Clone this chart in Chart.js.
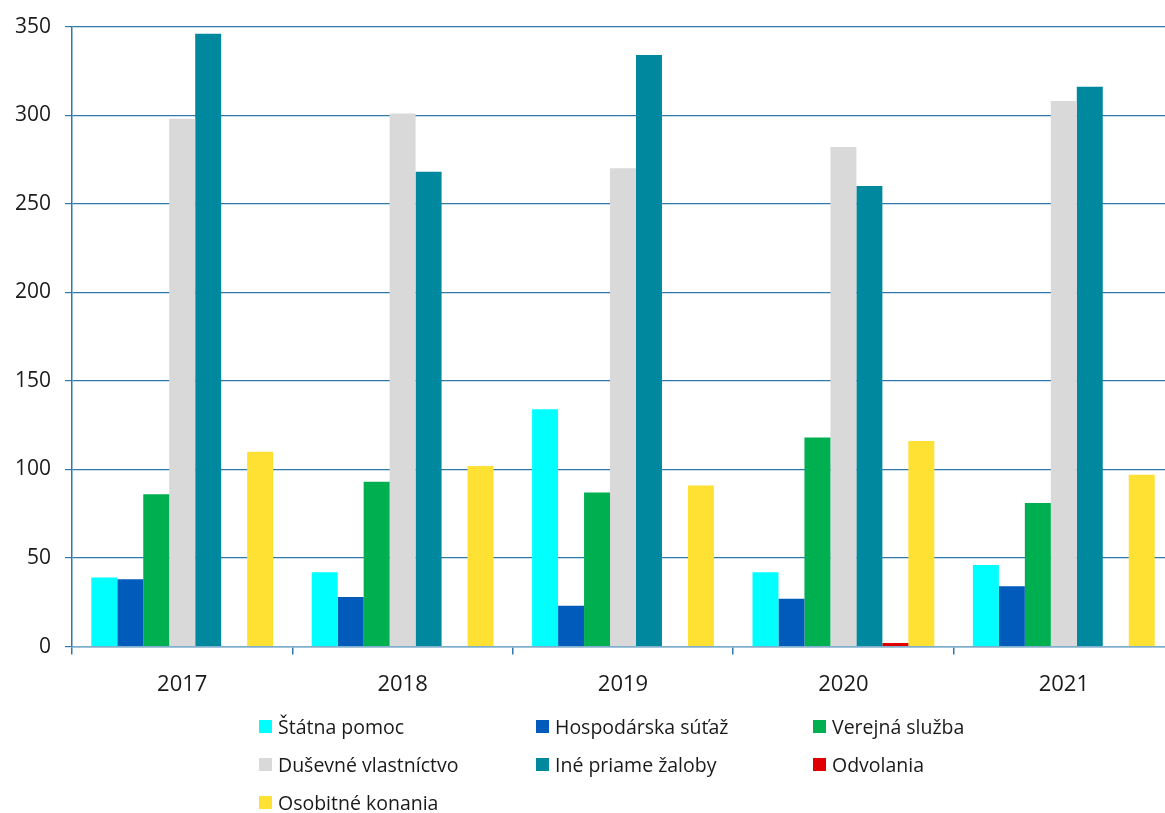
<!DOCTYPE html>
<html>
<head>
<meta charset="utf-8">
<script src="https://cdn.jsdelivr.net/npm/chart.js@4/dist/chart.umd.min.js"></script>
<style>
  html, body { margin: 0; padding: 0; background: #fff; overflow: hidden; }
  #wrap { position: relative; width: 1180px; height: 813px; }
  #chartBox { position: absolute; left: 0; top: 0; width: 1180px; height: 813px; }
  #legend { position: absolute; left: 259px; top: 713px; display: grid;
            grid-template-columns: 277px 277px 277px; row-gap: 12px;
            font-family: "Open Sans", "Noto Sans", sans-serif; font-size: 19.5px; color: #1a1a1a; }
  .item { display: flex; align-items: center; height: 26px; white-space: nowrap; }
  .sw { width: 13px; height: 13px; margin-right: 6px; flex: none; }
</style>
</head>
<body>
<div id="wrap">
  <div id="chartBox"><canvas id="c"></canvas></div>
  <div id="legend"></div>
</div>
<script>
const years = ['2017', '2018', '2019', '2020', '2021'];

const statnaPomoc        = [39, 42, 134, 42, 46];
const hospodarskaSutaz   = [38, 28, 23, 27, 34];
const verejnaSluzba      = [86, 93, 87, 118, 81];
const dusevneVlastnictvo = [298, 301, 270, 282, 308];
const inePriameZaloby    = [346, 268, 334, 260, 316];
const odvolania          = [0, 0, 0, 2, 0];
const osobitneKonania    = [110, 102, 91, 116, 97];

const seriesNames = ['Štátna pomoc', 'Hospodárska súťaž', 'Verejná služba',
  'Duševné vlastníctvo', 'Iné priame žaloby', 'Odvolania', 'Osobitné konania'];
const seriesColors = ['#00FFFF', '#005BBB', '#00B050', '#D9D9D9', '#00889E', '#E00000', '#FFE133'];
const seriesValues = [statnaPomoc, hospodarskaSutaz, verejnaSluzba, dusevneVlastnictvo,
  inePriameZaloby, odvolania, osobitneKonania];

const yTicks = [0, 50, 100, 150, 200, 250, 300, 350];

const font = "'Open Sans', 'Noto Sans', sans-serif";
const axisBlue = '#2f78ad';

const chart = new Chart(document.getElementById('c'), {
  type: 'bar',
  data: {
    labels: years,
    datasets: seriesNames.map((name, i) => ({
      label: name,
      data: seriesValues[i],
      backgroundColor: seriesColors[i],
      borderWidth: 0,
      barPercentage: 1.0,
      categoryPercentage: 0.825
    }))
  },
  options: {
    responsive: true,
    maintainAspectRatio: false,
    animation: false,
    layout: { padding: { left: 1, top: 13, right: 6, bottom: 98 } },
    plugins: { legend: { display: false }, tooltip: { enabled: false } },
    scales: {
      x: {
        grid: { display: true, drawOnChartArea: false, drawTicks: true, tickLength: 8,
                offset: true, color: axisBlue, lineWidth: 1.5 },
        border: { display: true, color: '#7fadcc', width: 1.5 },
        ticks: { color: '#1a1a1a', font: { family: font, size: 22 }, padding: 17 }
      },
      y: {
        min: 0, max: 350,
        afterBuildTicks: (axis) => { axis.ticks = yTicks.map(v => ({ value: v })); },
        grid: { color: axisBlue, lineWidth: 1.2, tickLength: 7 },
        border: { display: true, color: axisBlue, width: 1.5 },
        ticks: { color: '#1a1a1a', font: { family: font, size: 21 }, padding: 14 }
      }
    }
  }
});

// HTML legend laid out in a three-column grid
const legend = document.getElementById('legend');
chart.data.datasets.forEach(ds => {
  const item = document.createElement('div');
  item.className = 'item';
  const sw = document.createElement('span');
  sw.className = 'sw';
  sw.style.background = ds.backgroundColor;
  const txt = document.createElement('span');
  txt.textContent = ds.label;
  item.appendChild(sw);
  item.appendChild(txt);
  legend.appendChild(item);
});
</script>
</body>
</html>
